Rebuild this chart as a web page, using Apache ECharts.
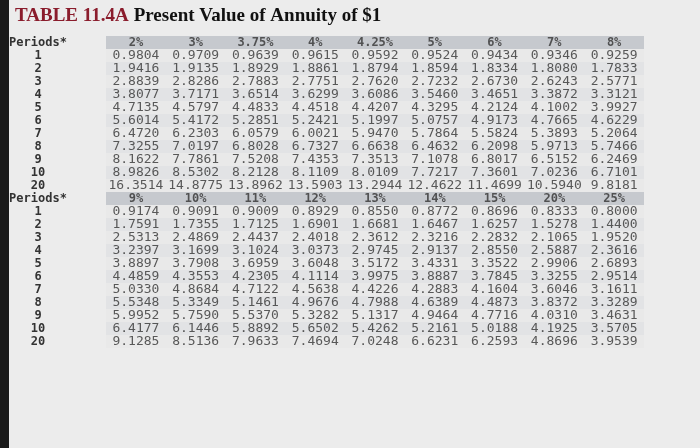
<!DOCTYPE html><html><head><meta charset="utf-8">
<script src="https://cdn.jsdelivr.net/npm/echarts@6/dist/echarts.min.js"></script>
<style>body{margin:0;background:#ececec}#c{width:700px;height:448px}</style></head><body><div id="c"></div>
<script>
const rowLabels=["Periods*","1","2","3","4","5","6","7","8","9","10","20","Periods*","1","2","3","4","5","6","7","8","9","10","20"];
const headersA=["2%","3%","3.75%","4%","4.25%","5%","6%","7%","8%"];
const headersB=["9%","10%","11%","12%","13%","14%","15%","20%","25%"];
const tableA=[
[0.9804,0.9709,0.9639,0.9615,0.9592,0.9524,0.9434,0.9346,0.9259],
[1.9416,1.9135,1.8929,1.8861,1.8794,1.8594,1.8334,1.8080,1.7833],
[2.8839,2.8286,2.7883,2.7751,2.7620,2.7232,2.6730,2.6243,2.5771],
[3.8077,3.7171,3.6514,3.6299,3.6086,3.5460,3.4651,3.3872,3.3121],
[4.7135,4.5797,4.4833,4.4518,4.4207,4.3295,4.2124,4.1002,3.9927],
[5.6014,5.4172,5.2851,5.2421,5.1997,5.0757,4.9173,4.7665,4.6229],
[6.4720,6.2303,6.0579,6.0021,5.9470,5.7864,5.5824,5.3893,5.2064],
[7.3255,7.0197,6.8028,6.7327,6.6638,6.4632,6.2098,5.9713,5.7466],
[8.1622,7.7861,7.5208,7.4353,7.3513,7.1078,6.8017,6.5152,6.2469],
[8.9826,8.5302,8.2128,8.1109,8.0109,7.7217,7.3601,7.0236,6.7101],
[16.3514,14.8775,13.8962,13.5903,13.2944,12.4622,11.4699,10.5940,9.8181]];
const tableB=[
[0.9174,0.9091,0.9009,0.8929,0.8550,0.8772,0.8696,0.8333,0.8000],
[1.7591,1.7355,1.7125,1.6901,1.6681,1.6467,1.6257,1.5278,1.4400],
[2.5313,2.4869,2.4437,2.4018,2.3612,2.3216,2.2832,2.1065,1.9520],
[3.2397,3.1699,3.1024,3.0373,2.9745,2.9137,2.8550,2.5887,2.3616],
[3.8897,3.7908,3.6959,3.6048,3.5172,3.4331,3.3522,2.9906,2.6893],
[4.4859,4.3553,4.2305,4.1114,3.9975,3.8887,3.7845,3.3255,2.9514],
[5.0330,4.8684,4.7122,4.5638,4.4226,4.2883,4.1604,3.6046,3.1611],
[5.5348,5.3349,5.1461,4.9676,4.7988,4.6389,4.4873,3.8372,3.3289],
[5.9952,5.7590,5.5370,5.3282,5.1317,4.9464,4.7716,4.0310,3.4631],
[6.4177,6.1446,5.8892,5.6502,5.4262,5.2161,5.0188,4.1925,3.5705],
[9.1285,8.5136,7.9633,7.4694,7.0248,6.6231,6.2593,4.8696,3.9539]];
const cols=["c1","c2","c3","c4","c5","c6","c7","c8","c9"];
const cells=[],heads=[];
headersA.forEach((h,i)=>heads.push({value:[i,0],name:h}));
headersB.forEach((h,i)=>heads.push({value:[i,12],name:h}));
tableA.forEach((r,ri)=>r.forEach((v,ci)=>cells.push({value:[ci,ri+1],name:v.toFixed(4)})));
tableB.forEach((r,ri)=>r.forEach((v,ci)=>cells.push({value:[ci,ri+13],name:v.toFixed(4)})));
const stripe=rowLabels.map((l,i)=>l==='Periods*'?'#c6c9ce':(i%2?'#e9e9e9':'#e2e3e5'));
const font='"DejaVu Sans Mono", monospace';
const ch=echarts.init(document.getElementById('c'));
ch.setOption({
 backgroundColor:'#ececec',animation:false,
 title:{text:'{r|TABLE 11.4A} {b|Present Value of Annuity of $1}',left:10,top:2,
  textStyle:{rich:{r:{fontFamily:'Liberation Serif',fontWeight:'bold',fontSize:19,color:'#8a1c2c'},b:{fontFamily:'Liberation Serif',fontWeight:'bold',fontSize:19,color:'#111'}}}},
 graphic:[{type:'rect',shape:{x:0,y:0,width:9,height:448},style:{fill:'#1a1a1a'}}],
 grid:{left:106,right:56,top:36,height:312},
 xAxis:{type:'category',data:cols,show:false},
 yAxis:{type:'category',data:rowLabels,inverse:true,axisLine:{show:false},axisTick:{show:false},
  splitArea:{show:true,interval:0,areaStyle:{color:stripe}},
  axisLabel:{interval:0,margin:68,align:'center',fontFamily:font,fontSize:12,fontWeight:'bold',color:'#333'}},
 series:[
 {type:'scatter',symbolSize:0,data:heads,label:{show:true,formatter:p=>p.name,fontFamily:font,fontSize:12,fontWeight:'bold',color:'#333'}},
 {type:'scatter',symbolSize:0,data:cells,label:{show:true,formatter:p=>p.name,fontFamily:font,fontSize:13,color:'#333'}}
 ]});
</script></body></html>
